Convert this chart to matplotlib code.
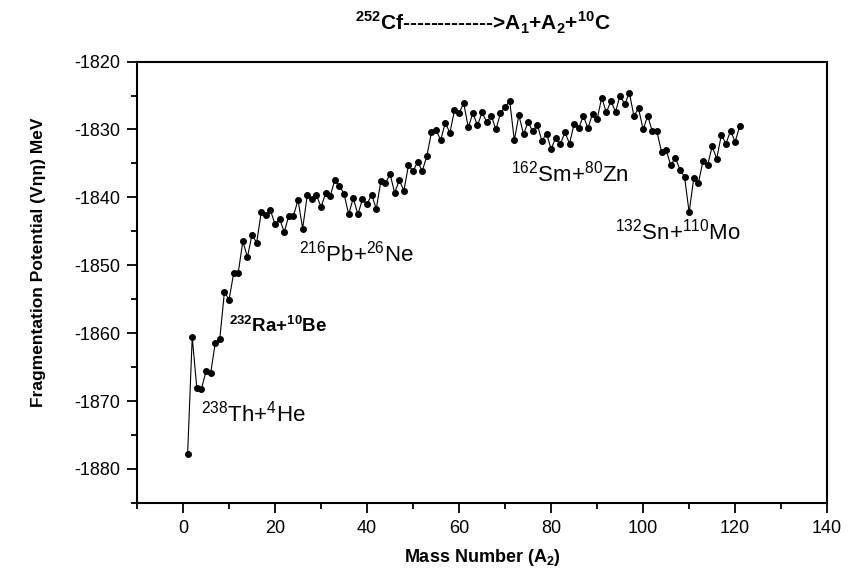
import numpy as np
import matplotlib
matplotlib.use("Agg")
import matplotlib.pyplot as plt
from matplotlib.ticker import MultipleLocator

plt.rcParams["font.family"] = ["Liberation Sans", "DejaVu Sans"]
plt.rcParams["mathtext.fontset"] = "custom"
plt.rcParams["mathtext.rm"] = "Liberation Sans"
plt.rcParams["mathtext.bf"] = "Liberation Sans:bold"
plt.rcParams["axes.unicode_minus"] = False

# mass number of fragment A2
mass_number = list(range(1, 122))

# fragmentation potential (MeV)
potential = [
    -1877.8, -1860.6, -1868.1, -1868.2, -1865.6, -1865.9, -1861.5, -1860.8, -1853.9, -1855.1,
    -1851.2, -1851.1, -1846.5, -1848.8, -1845.5, -1846.7, -1842.2, -1842.6, -1841.9, -1844.0,
    -1843.2, -1845.1, -1842.7, -1842.7, -1840.4, -1844.6, -1839.7, -1840.3, -1839.7, -1841.4,
    -1839.4, -1839.8, -1837.4, -1838.3, -1839.5, -1842.5, -1840.1, -1842.5, -1840.3, -1841.0,
    -1839.6, -1841.7, -1837.6, -1837.9, -1836.6, -1839.3, -1837.5, -1839.0, -1835.3, -1836.1,
    -1834.8, -1836.1, -1833.9, -1830.4, -1830.1, -1831.6, -1829.0, -1830.5, -1827.2, -1827.6,
    -1826.1, -1829.7, -1827.6, -1829.4, -1827.5, -1828.9, -1828.0, -1830.0, -1827.6, -1826.7,
    -1825.8, -1831.6, -1827.9, -1830.7, -1828.9, -1830.3, -1829.3, -1831.7, -1830.6, -1832.9,
    -1831.2, -1832.2, -1830.4, -1832.1, -1829.2, -1829.8, -1828.0, -1829.8, -1827.7, -1828.5,
    -1825.3, -1827.5, -1825.8, -1827.4, -1825.0, -1826.3, -1824.6, -1828.0, -1826.9, -1830.0,
    -1828.0, -1830.3, -1830.3, -1833.3, -1833.0, -1835.3, -1834.2, -1835.9, -1837.0, -1842.2,
    -1837.2, -1837.9, -1834.7, -1835.3, -1832.5, -1834.3, -1830.8, -1832.1, -1830.2, -1831.8,
    -1829.5,
]

# fragment combination labels
labels = [r"$^{\mathregular{238}}$Th+$^{\mathregular{4}}$He",
          r"$^{\mathbf{232}}$Ra+$^{\mathbf{10}}$Be",
          r"$^{\mathregular{216}}$Pb+$^{\mathregular{26}}$Ne",
          r"$^{\mathregular{162}}$Sm+$^{\mathregular{80}}$Zn",
          r"$^{\mathregular{132}}$Sn+$^{\mathregular{110}}$Mo"]
label_x = [3.9, 9.9, 25.1, 71.2, 93.9]
label_y = [-1871.8, -1858.9, -1848.3, -1836.5, -1845.1]
label_bold = [False, True, False, False, False]

fig = plt.figure(figsize=(8.51, 5.78), dpi=100)
ax = fig.add_axes([0.161, 0.130, 0.811, 0.7635])

ax.plot(mass_number, potential, color="black", linewidth=0.8,
        marker="o", markersize=4, markerfacecolor="black")

for txt, lx, ly, b in zip(labels, label_x, label_y, label_bold):
    ax.text(lx, ly, txt, fontsize=13.5 if b else 16,
            fontweight="bold" if b else "normal", va="center", ha="left")

ax.set_xlim(-10, 140)
ax.set_ylim(-1885, -1820)
ax.xaxis.set_major_locator(MultipleLocator(20))
ax.xaxis.set_minor_locator(MultipleLocator(10))
ax.yaxis.set_major_locator(MultipleLocator(10))
ax.yaxis.set_minor_locator(MultipleLocator(5))
ax.tick_params(which="both", direction="out", top=False, right=False,
               labelsize=13, width=1.3)
ax.tick_params(which="major", length=7, pad=5)
ax.tick_params(which="minor", length=4)
for sp in ax.spines.values():
    sp.set_linewidth(1.5)

fig.text(0.567, 0.961, r"$^{\mathbf{252}}$Cf------------->A$_{\mathbf{1}}$+A$_{\mathbf{2}}$+$^{\mathbf{10}}$C",
         fontsize=15, fontweight="bold", ha="center", va="center")
fig.text(0.567, 0.036, r"Mass Number (A$_{\mathbf{2}}$)", fontsize=13,
         fontweight="bold", ha="center", va="center")
fig.text(0.045, 0.547, "Fragmentation Potential (Vηη) MeV", fontsize=12.5,
         fontweight="bold", ha="center", va="center", rotation=90)

fig.savefig("out.png", dpi=100)
